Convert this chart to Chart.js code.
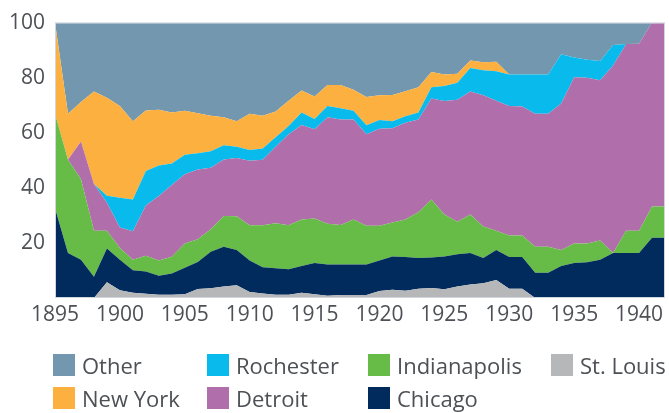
<!DOCTYPE html>
<html><head><meta charset="utf-8">
<script src="https://cdn.jsdelivr.net/npm/chart.js@4.4.1/dist/chart.umd.min.js"></script>
<style>
html,body{margin:0;padding:0;background:#fff;}
#wrap{position:relative;width:669px;height:413px;overflow:hidden;}
#c{position:absolute;left:0;top:0;}
#legend{position:absolute;left:0;top:0;width:669px;height:413px;font-family:'Open Sans',sans-serif;font-size:22px;color:#4d5055;pointer-events:none;}
.item{position:absolute;display:flex;align-items:center;white-space:nowrap;height:26px;}
.box{width:22px;height:22px;margin-right:7px;flex:none;}
</style></head>
<body>
<div id="wrap"><canvas id="c" width="669" height="413"></canvas><div id="legend"></div></div>
<script>
const years = [1895,1896,1897,1898,1899,1900,1901,1902,1903,1904,1905,1906,1907,1908,1909,1910,1911,1912,1913,1914,1915,1916,1917,1918,1919,1920,1921,1922,1923,1924,1925,1926,1927,1928,1929,1930,1931,1932,1933,1934,1935,1936,1937,1938,1939,1940,1941,1942];
const yTicks = [20,40,60,80,100];

const stLouis = [0,0,0,0,5.7,2.8,1.9,1.5,1.2,1.2,1.4,3.3,3.5,4.2,4.6,2.2,1.6,1.2,1.2,1.9,1.4,0.8,1.1,1.1,1.1,2.5,3.0,2.6,3.4,3.6,3.2,4.2,4.9,5.4,6.5,3.4,3.4,0,0,0,0,0,0,0,0,0,0,0];
const chicago = [32.6,16.3,13.9,7.7,12.3,11.1,8.2,8.1,6.9,7.7,9.6,9.8,13.3,14.4,12.8,11.4,9.6,9.6,9.2,9.7,11.3,11.4,11.1,11.1,11.1,11.1,12.1,12.3,11.1,11.1,11.9,11.7,11.4,9.1,10.9,11.5,11.5,9.2,9.2,11.6,12.7,13.0,13.9,16.3,16.3,16.3,21.9,21.9];
const indianapolis = [34.3,33.9,29.3,16.7,6.4,4.3,3.8,5.7,5.5,6.1,8.8,8.2,8.2,11.2,12.3,12.8,15.2,16.3,16.0,16.9,16.2,14.8,14.3,16.3,14.0,12.6,12.3,13.6,16.6,21.1,15.2,11.8,14.0,11.5,7.0,7.8,7.8,9.4,9.4,5.8,7.1,6.8,7.0,0,8.1,8.1,11.3,11.3];
const detroit = [0,0,13.6,17.0,10.2,7.4,10.3,18.3,23.4,26.0,25.1,25.4,22.3,20.5,21.1,23.4,23.8,27.8,33.1,34.3,32.4,38.6,38.3,36.3,33.3,35.3,34.2,35.1,33.7,36.6,41.2,44.3,44.7,47.6,47.2,47.0,46.8,48.3,48.3,53.2,60.4,60.2,58.2,68.1,67.8,67.9,66.8,66.8];
const rochester = [0,0,0,0,2.5,10.8,11.6,12.5,11.1,7.8,7.1,5.9,6.0,5.2,4.1,3.9,4.1,3.5,3.0,4.6,3.7,4.1,4.1,3.2,3.2,3.1,2.6,2.4,2.6,4.1,5.5,6.2,8.5,9.1,10.7,11.5,11.7,14.3,14.3,17.9,7.1,6.5,7.0,7.5,0,0,0,0];
const newYork = [33.1,16.7,14.4,33.6,35.6,33.3,28.4,22.0,20.3,18.6,16.0,14.5,12.9,10.1,9.3,13.2,11.9,9.3,9.1,7.9,8.2,7.6,8.4,7.6,10.3,9.0,9.5,9.1,9.1,5.6,4.2,3.2,2.7,2.9,3.5,0,0,0,0,0,0,0,0,0,0,0,0,0];
const other = [0,33.1,28.8,25.0,27.3,30.3,35.8,31.9,31.6,32.6,32.0,32.9,33.8,34.4,35.8,33.1,33.8,32.3,28.4,24.7,26.8,22.7,22.7,24.4,27.0,26.4,26.3,24.9,23.5,17.9,18.8,18.6,13.8,14.4,14.2,18.8,18.8,18.8,18.8,11.5,12.7,13.5,13.9,8.1,7.8,7.7,0,0];

const seriesNames = ['St. Louis','Chicago','Indianapolis','Detroit','Rochester','New York','Other'];
const seriesData = [stLouis,chicago,indianapolis,detroit,rochester,newYork,other];
const seriesColors = ['#b5b7b9','#002b5c','#67bb47','#b06eaa','#08bbec','#fbb040','#7397ae'];
const legendOrder = ['Other','Rochester','Indianapolis','St. Louis','New York','Detroit','Chicago'];

const datasets = seriesNames.map((n,i)=>({
  label:n, data:seriesData[i], backgroundColor:seriesColors[i], borderColor:seriesColors[i],
  borderWidth:0, pointRadius:0, tension:0, fill: i===0 ? 'origin' : '-1'
}));

const framePlugin = {
  id:'frame',
  afterDatasetsDraw(chart){
    const a = chart.chartArea, ctx = chart.ctx;
    ctx.save(); ctx.strokeStyle='#cfd6dd'; ctx.lineWidth=1;
    ctx.strokeRect(a.left+0.5, a.top+0.5, a.right-a.left-1, a.bottom-a.top-1);
    ctx.restore();
  }
};

const fontFam = "'Open Sans', sans-serif";
new Chart(document.getElementById('c'), {
  type:'line',
  data:{labels:years.map(String), datasets},
  options:{
    responsive:false, animation:false,
    layout:{padding:{top:13,right:2,bottom:85,left:0}},
    plugins:{legend:{display:false}, tooltip:{enabled:false}},
    scales:{
      x:{
        type:'category', offset:false,
        grid:{display:false, drawTicks:false}, border:{display:false},
        ticks:{autoSkip:false, maxRotation:0, padding:4, color:'#4d5055', font:{family:fontFam, size:21},
          callback:(v,i)=> years[i]%5===0 ? String(years[i]) : ''},
        afterFit(s){ s.height = 30; }
      },
      y:{
        stacked:true, min:0, max:100,
        grid:{display:false, drawTicks:false}, border:{display:false},
        afterBuildTicks(s){ s.ticks = yTicks.map(v=>({value:v})); },
        ticks:{padding:10, color:'#4d5055', font:{family:fontFam, size:21}},
        afterFit(s){ s.width = 55; }
      }
    }
  },
  plugins:[framePlugin]
});

// HTML legend built from the series arrays
const cols = [53,207,368,551];
const rows = [352,385];
const lg = document.getElementById('legend');
legendOrder.forEach((name,k)=>{
  const idx = seriesNames.indexOf(name);
  const col = k<4 ? k : k-4, row = k<4 ? 0 : 1;
  const d = document.createElement('div'); d.className='item';
  d.style.left = cols[col]+'px'; d.style.top = rows[row]+'px';
  const b = document.createElement('span'); b.className='box'; b.style.background = seriesColors[idx];
  const t = document.createElement('span'); t.textContent = name;
  d.appendChild(b); d.appendChild(t); lg.appendChild(d);
});
</script>
</body></html>
